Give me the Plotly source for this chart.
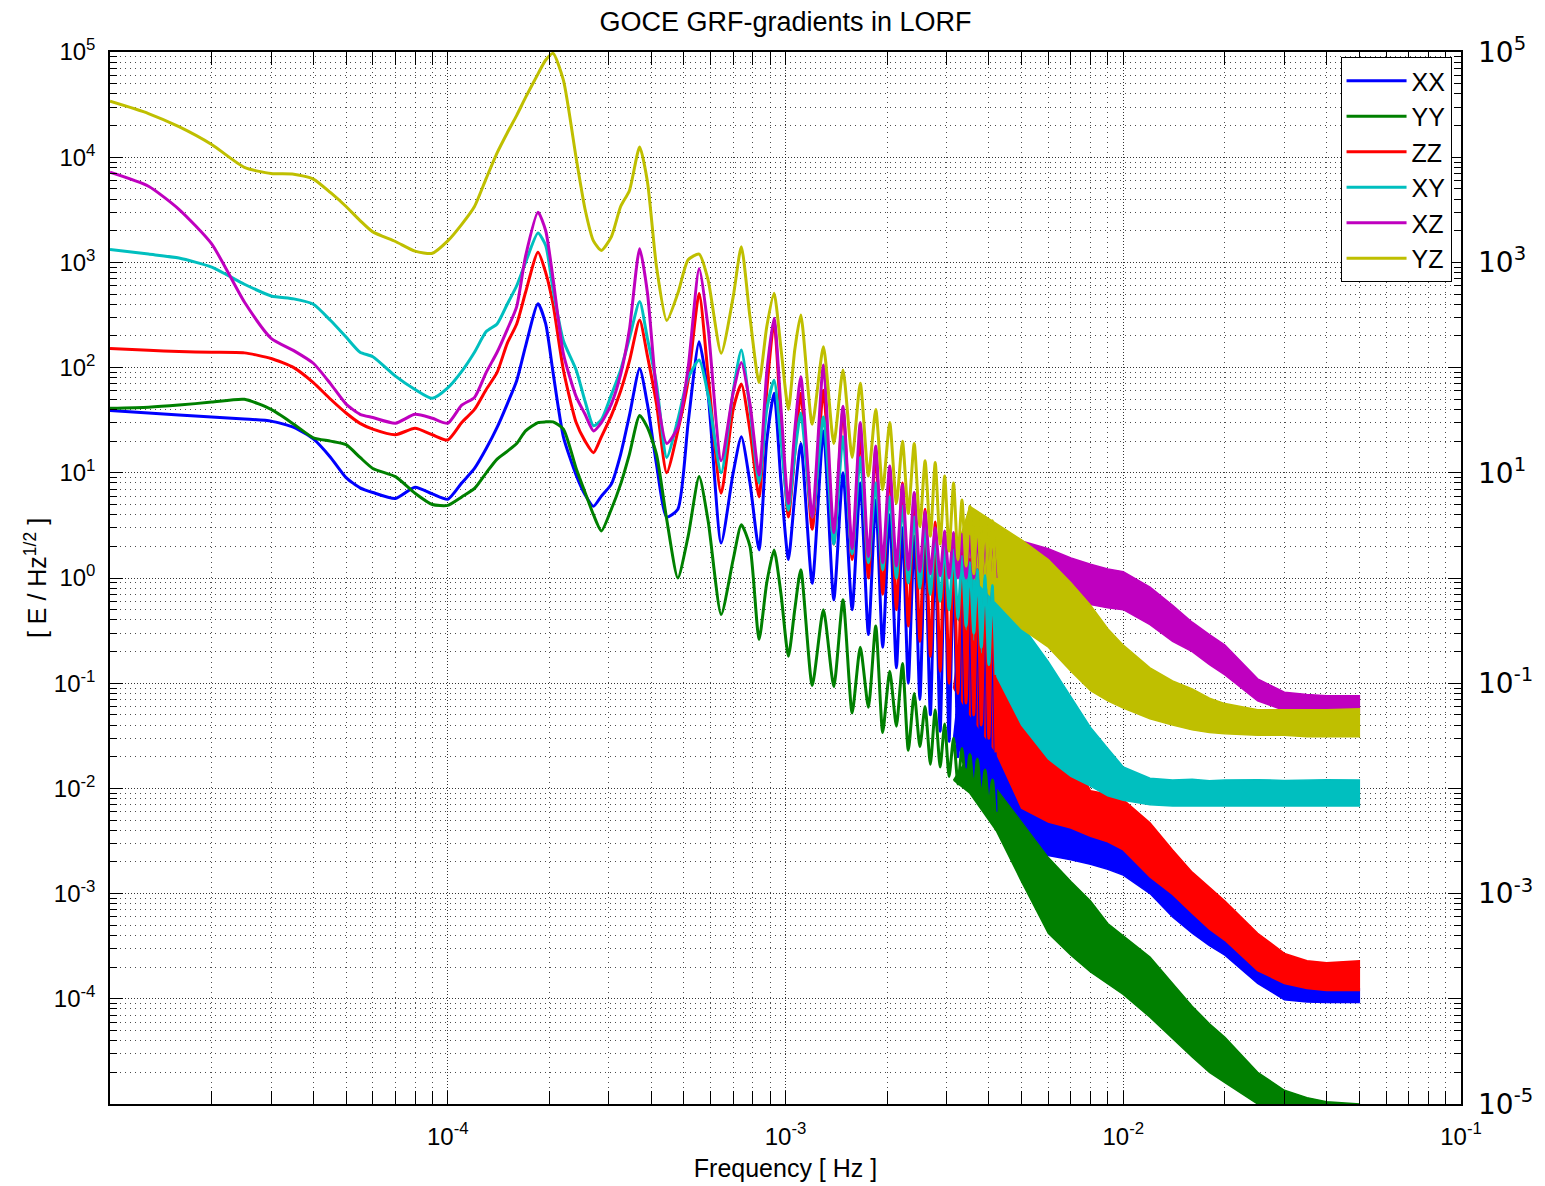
import math
import plotly.graph_objects as go

# ---------------- data ----------------
# smooth low-frequency part [Hz]
f_low = [1.0e-5, 1.3e-5, 1.6e-5, 2.0e-5, 2.5e-5, 3.0e-5, 3.5e-5, 4.0e-5, 4.5e-5, 5.0e-5,
         5.5e-5, 6.0e-5, 7.0e-5, 8.0e-5, 9.0e-5, 1.0e-4, 1.1e-4, 1.2e-4, 1.3e-4, 1.4e-4,
         1.5e-4, 1.6e-4, 1.7e-4]
# orbit-harmonic region (peaks / troughs) [Hz]
f_harm = [1.85e-4, 1.95e-4, 2.05e-4, 2.2e-4, 2.4e-4, 2.55e-4, 2.7e-4, 2.85e-4, 3.05e-4, 3.25e-4,
          3.45e-4, 3.7e-4, 3.9e-4, 4.15e-4, 4.45e-4, 4.8e-4, 5.15e-4, 5.55e-4, 5.9e-4, 6.45e-4,
          7.0e-4, 7.4e-4, 7.85e-4, 8.35e-4, 8.8e-4, 9.25e-4, 9.7e-4, 1.02e-3, 1.065e-3, 1.11e-3,
          1.2e-3, 1.295e-3, 1.39e-3, 1.48e-3, 1.575e-3, 1.665e-3, 1.76e-3, 1.85e-3, 1.94e-3, 2.035e-3,
          2.13e-3, 2.22e-3, 2.31e-3, 2.405e-3, 2.5e-3, 2.59e-3, 2.685e-3, 2.775e-3, 2.87e-3, 2.96e-3,
          3.05e-3, 3.145e-3, 3.24e-3, 3.33e-3, 3.425e-3, 3.515e-3, 3.61e-3, 3.7e-3, 3.8e-3, 3.9e-3,
          4.0e-3, 4.1e-3, 4.2e-3]
# high-frequency noise band (upper / lower envelope) [Hz]
f_band = [3.145e-3, 3.515e-3, 4.2e-3, 5e-3, 6e-3, 7e-3, 8e-3, 9e-3, 1e-2, 1.2e-2,
          1.4e-2, 1.6e-2, 1.8e-2, 2e-2, 2.5e-2, 3e-2, 3.5e-2, 4e-2, 5e-2]

# XX
xx_low = [39, 37, 35.5, 34, 32.5, 31, 27, 21, 14, 9, 7.2, 6.5, 5.7, 7.3, 6.3, 5.6, 8.0, 11, 17, 27, 45, 75, 160]
xx_harm = [405, 260, 90, 22, 9.5, 6.2, 4.8, 6.0, 7.8, 15,
           35, 98, 45, 12, 3.8, 4.5, 30, 176, 55, 2.15,
           10, 22, 8, 1.85, 20, 57, 8, 1.5, 6, 19,
           0.89, 25, 0.62, 10, 0.5, 8, 0.29, 5.5, 0.22, 4,
           0.14, 3, 0.1, 2.5, 0.07, 2.2, 0.05, 1.9, 0.035, 1.6,
           0.028, 1.3, 0.02, 1.1, 0.016, 0.9, 0.013, 0.75, 0.01, 0.6,
           0.008, 0.45, 0.006]
xx_band_hi = [0.03, 0.9, 0.35, 0.08, 0.014, 0.0075, 0.0055, 0.0042, 0.0035, 0.0022,
              0.0014, 0.001, 7.2e-4, 5.8e-4, 2.9e-4, 1.6e-4, 1.35e-4, 1.3e-4, 1.25e-4]
xx_band_lo = [0.03, 0.015, 0.006, 0.0029, 0.0023, 0.0021, 0.0019, 0.0017, 0.0015, 0.001,
              6.0e-4, 4.2e-4, 3.2e-4, 2.6e-4, 1.4e-4, 9.8e-5, 9.3e-5, 9.2e-5, 9.2e-5]

# YY
yy_low = [41, 42, 44, 47, 50, 40, 29, 21.5, 20, 18.5, 14, 11, 9.2, 6.4, 5.0, 4.9, 5.9, 7.1, 10, 13.5, 16, 19, 25]
yy_harm = [30, 30.5, 30.5, 26, 11, 6.5, 4.0, 2.8, 4.5, 7.8,
           15, 35, 27, 15, 3.6, 1.0, 2.5, 9.2, 3.5, 0.45,
           1.5, 3.2, 2.0, 0.26, 0.9, 1.85, 0.7, 0.18, 0.5, 1.2,
           0.095, 0.5, 0.093, 0.62, 0.052, 0.22, 0.059, 0.35, 0.034, 0.13,
           0.039, 0.154, 0.023, 0.08, 0.025, 0.06, 0.017, 0.056, 0.016, 0.041,
           0.013, 0.03, 0.011, 0.024, 0.01, 0.021, 0.009, 0.019, 0.0075, 0.015,
           0.0065, 0.012, 0.004]
yy_band_hi = [0.012, 0.021, 0.01, 0.0048, 0.0022, 0.0013, 8.5e-4, 5.2e-4, 4.0e-4, 2.5e-4,
              1.4e-4, 8.5e-5, 5.8e-5, 4.3e-5, 2.0e-5, 1.35e-5, 1.15e-5, 1.05e-5, 1.0e-5]
yy_band_lo = [0.012, 0.009, 0.004, 0.0013, 4.2e-4, 2.6e-4, 1.8e-4, 1.4e-4, 1.1e-4, 6.7e-5,
              4.2e-5, 2.8e-5, 2.0e-5, 1.6e-5, 1.0e-5, 7.5e-6, 6.5e-6, 6.0e-6, 5.5e-6]

# ZZ
zz_low = [152, 146, 142, 140, 138, 122, 100, 72, 50, 37, 29.5, 26, 23, 26.5, 23, 20.5, 30, 40, 62, 90, 170, 260, 520]
zz_harm = [1.25e3, 800, 400, 95, 30, 20, 15.5, 22, 35, 60,
           115, 283, 130, 45, 10, 25, 75, 505, 85, 6.4,
           40, 70, 25, 5.9, 60, 272, 30, 3.8, 15, 57,
           2.9, 61, 2.1, 40, 1.5, 22, 1.0, 16.5, 0.7, 10.5,
           0.5, 8, 0.35, 6, 0.25, 4.5, 0.18, 3.4, 0.13, 2.7,
           0.1, 2.1, 0.08, 1.85, 0.065, 1.5, 0.05, 1.2, 0.04, 0.95,
           0.03, 0.75, 0.022]
zz_band_hi = [0.09, 1.5, 0.35, 0.17, 0.07, 0.022, 0.0095, 0.0088, 0.0078, 0.0047,
              0.0026, 0.0016, 0.00115, 8.5e-4, 4.2e-4, 2.7e-4, 2.3e-4, 2.2e-4, 2.3e-4]
zz_band_lo = [0.09, 0.05, 0.022, 0.0065, 0.0048, 0.0042, 0.0035, 0.0031, 0.0026, 0.00144,
              9.8e-4, 6.5e-4, 4.6e-4, 3.6e-4, 1.85e-4, 1.4e-4, 1.25e-4, 1.2e-4, 1.2e-4]

# XY
xy_low = [1.33e3, 1.2e3, 1.1e3, 900, 620, 480, 450, 400, 280, 195, 140, 127, 83, 62, 51, 64, 92, 140, 220, 260, 400, 600, 1.0e3]
xy_harm = [1.9e3, 1.45e3, 550, 180, 95, 48, 28, 32, 55, 95,
           190, 424, 190, 70, 14, 32, 80, 118, 55, 10,
           60, 147, 40, 8, 40, 76, 20, 4.4, 15, 37,
           3.8, 34, 2.1, 22, 1.7, 14, 1.4, 8, 1.2, 5.9,
           1.0, 4.8, 0.9, 3.8, 0.8, 3.1, 0.7, 2.5, 0.6, 2.1,
           0.5, 1.85, 0.42, 1.6, 0.35, 1.4, 0.3, 1.2, 0.22, 1.05,
           0.15, 0.85, 0.12]
xy_band_hi = [0.45, 1.4, 0.7, 0.36, 0.16, 0.075, 0.038, 0.024, 0.016, 0.0125,
              0.012, 0.0122, 0.0118, 0.012, 0.0121, 0.0119, 0.012, 0.0121, 0.012]
xy_band_lo = [0.45, 0.3, 0.12, 0.04, 0.019, 0.013, 0.0105, 0.0085, 0.0077, 0.007,
              0.0068, 0.0068, 0.0067, 0.0068, 0.0068, 0.0067, 0.0068, 0.0068, 0.0068]

# XZ
xz_low = [7.2e3, 5.3e3, 3.2e3, 1.5e3, 420, 190, 145, 110, 70, 45, 36, 33.5, 29.6, 36, 33, 29.6, 44, 52, 90, 140, 230, 380, 1.15e3]
xz_harm = [3.0e3, 2.0e3, 700, 135, 53, 36, 25, 30, 45, 86,
           230, 1.35e3, 520, 60, 19, 27, 100, 870, 240, 13,
           58, 112, 45, 9.5, 90, 295, 40, 5.1, 25, 82,
           3.8, 106, 2.7, 43, 1.9, 30, 1.6, 18, 1.4, 11.6,
           1.3, 7.7, 1.2, 6.5, 1.15, 4.3, 1.1, 3.0, 1.05, 2.8,
           1.0, 2.7, 1.0, 2.6, 1.0, 2.5, 1.0, 2.5, 1.0, 2.4,
           1.0, 2.4, 1.0]
xz_band_hi = [1.1, 2.5, 2.4, 2.25, 1.9, 1.55, 1.35, 1.22, 1.15, 0.82,
              0.55, 0.38, 0.29, 0.23, 0.11, 0.082, 0.078, 0.076, 0.076]
xz_band_lo = [1.1, 1.0, 1.0, 0.95, 0.78, 0.62, 0.56, 0.52, 0.5, 0.36,
              0.25, 0.2, 0.15, 0.12, 0.068, 0.055, 0.054, 0.053, 0.053]

# YZ
yz_low = [3.4e4, 2.6e4, 1.95e4, 1.32e4, 8.0e3, 7.0e3, 6.9e3, 6.2e3, 4.6e3, 3.4e3, 2.5e3, 1.95e3, 1.58e3, 1.28e3, 1.22e3, 1.6e3, 2.3e3, 3.4e3, 6.3e3, 1.1e4, 1.7e4, 2.5e4, 3.7e4]
yz_harm = [6.2e4, 8.4e4, 9.7e4, 5.4e4, 9.8e3, 3.2e3, 1.6e3, 1.3e3, 1.75e3, 3.4e3,
           4.8e3, 1.25e4, 5.9e3, 910, 280, 508, 1.06e3, 1.2e3, 680, 137,
           470, 1.41e3, 300, 72, 245, 508, 150, 40, 147, 316,
           29, 158, 19, 95, 14, 71, 9.3, 40, 6.9, 30,
           5.1, 20, 4.1, 19, 3.1, 13, 2.5, 12.5, 2.1, 9.3,
           1.8, 8, 1.5, 5.5, 1.3, 4.8, 1.1, 4.1, 0.95, 3.8,
           0.8, 3.5, 0.6]
yz_band_hi = [1.5, 4.8, 3.3, 2.3, 1.5, 0.9, 0.55, 0.33, 0.23, 0.14,
              0.105, 0.088, 0.072, 0.064, 0.056, 0.056, 0.056, 0.056, 0.057]
yz_band_lo = [1.5, 1.1, 0.6, 0.33, 0.22, 0.13, 0.085, 0.068, 0.058, 0.046,
              0.04, 0.036, 0.034, 0.033, 0.032, 0.032, 0.031, 0.031, 0.031]

names = ["XX", "YY", "ZZ", "XY", "XZ", "YZ"]
colors = ["#0000FF", "#008000", "#FF0000", "#00BFBF", "#BF00BF", "#BFBF00"]

y_ticks_left = [1e5, 1e4, 1e3, 1e2, 1e1, 1e0, 1e-1, 1e-2, 1e-3, 1e-4]
y_ticks_right = [1e5, 1e3, 1e1, 1e-1, 1e-3, 1e-5]
x_ticks = [1e-4, 1e-3, 1e-2, 1e-1]

# ---------------- figure ----------------
series = [
    (xx_low, xx_harm, xx_band_hi, xx_band_lo),
    (yy_low, yy_harm, yy_band_hi, yy_band_lo),
    (zz_low, zz_harm, zz_band_hi, zz_band_lo),
    (xy_low, xy_harm, xy_band_hi, xy_band_lo),
    (xz_low, xz_harm, xz_band_hi, xz_band_lo),
    (yz_low, yz_harm, yz_band_hi, yz_band_lo),
]

fig = go.Figure()
# noise bands first (underneath), then the spectral lines on top
for name, col, (lo_v, h_v, b_hi, b_lo) in zip(names, colors, series):
    fig.add_trace(go.Scatter(
        x=f_band + f_band[::-1], y=b_hi + b_lo[::-1], mode="lines",
        fill="toself", fillcolor=col, line=dict(color=col, width=1.5),
        showlegend=False, hoverinfo="skip"))
for name, col, (lo_v, h_v, b_hi, b_lo) in zip(names, colors, series):
    fig.add_trace(go.Scatter(
        x=f_low + f_harm, y=lo_v + h_v, mode="lines", name=name,
        line=dict(color=col, width=3, shape="spline", smoothing=0.6),
        hoverinfo="skip"))

# empty trace so the right-hand axis is drawn
fig.add_trace(go.Scatter(x=[], y=[], yaxis="y2", showlegend=False, hoverinfo="skip"))


def sup(v):
    e = int(round(math.log10(v)))
    return "10<sup>%d</sup>" % e


minor_x = [m * 10.0 ** k for k in range(-5, -1) for m in range(2, 10)]
minor_y = [m * 10.0 ** k for k in range(-5, 5) for m in range(2, 10)]

grid_major = "rgba(0,0,0,0.8)"
grid_minor = "rgba(0,0,0,0.7)"
FONT = "Liberation Sans, Arial, Helvetica, sans-serif"

# page body has an 8 px margin: figure is 8 px smaller so it fits the window
W, H = 1537, 1178
fig.update_layout(
    width=W, height=H,
    margin=dict(l=102, r=84, t=44, b=82, autoexpand=False),
    paper_bgcolor="white", plot_bgcolor="white",
    font=dict(family=FONT, size=24, color="black"),
    hovermode=False,
    title=dict(text="GOCE GRF-gradients in LORF", x=0.5, xref="paper", xanchor="center",
               y=1 - 14 / H, yref="container", yanchor="middle",
               font=dict(size=27, family=FONT, color="black")),
    legend=dict(x=0.993, y=0.9952, xanchor="right", yanchor="top",
                bgcolor="white", bordercolor="black", borderwidth=1,
                font=dict(size=25, family=FONT), itemwidth=60, tracegroupgap=0),
    xaxis=dict(
        type="log", range=[-5, -1], tickmode="array", tickvals=x_ticks,
        ticktext=[sup(v) for v in x_ticks],
        ticks="inside", ticklen=13, tickwidth=1, tickcolor="black",
        showline=True, linecolor="black", linewidth=1.5, mirror="allticks",
        showgrid=True, gridcolor=grid_major, griddash="1px,2px", gridwidth=1,
        minor=dict(tickmode="array", tickvals=minor_x, ticks="inside", ticklen=7,
                   tickcolor="black", showgrid=True, gridcolor=grid_minor,
                   griddash="1px,4px", gridwidth=1),
        zeroline=False, automargin=False, ticklabelstandoff=10,
        tickfont=dict(size=24, family=FONT),
        title=dict(text="Frequency [ Hz ]", font=dict(size=25, family=FONT), standoff=11),
    ),
    yaxis=dict(
        type="log", range=[-5, 5], tickmode="array", tickvals=y_ticks_left,
        ticktext=[sup(v) for v in y_ticks_left],
        ticks="inside", ticklen=13, tickwidth=1, tickcolor="black",
        showline=True, linecolor="black", linewidth=1.5, mirror="allticks",
        showgrid=True, gridcolor=grid_major, griddash="1px,2px", gridwidth=1,
        minor=dict(tickmode="array", tickvals=minor_y, ticks="inside", ticklen=7,
                   tickcolor="black", showgrid=True, gridcolor=grid_minor,
                   griddash="1px,4px", gridwidth=1),
        zeroline=False, automargin=False, ticklabelstandoff=8,
        tickfont=dict(size=24, family=FONT),
        title=dict(text="[ E / Hz<sup>1/2</sup> ]", font=dict(size=25, family=FONT), standoff=0),
    ),
    yaxis2=dict(
        type="log", range=[-5, 5], overlaying="y", side="right", anchor="x",
        tickmode="array", tickvals=y_ticks_right,
        ticktext=[sup(v) for v in y_ticks_right],
        ticks="", showline=False, showgrid=False, zeroline=False,
        automargin=False, ticklabelstandoff=16,
        tickfont=dict(size=28, family="DejaVu Sans, sans-serif"),
    ),
)

fig.write_html("out.html")
